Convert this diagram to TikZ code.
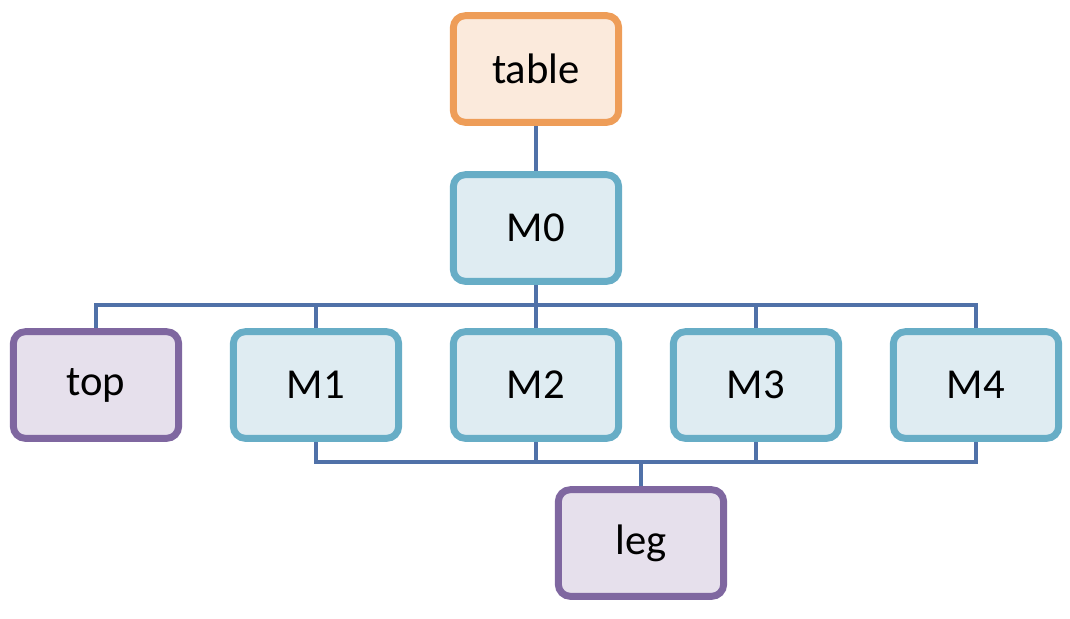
\documentclass[tikz,border=0pt]{standalone}
\usepackage{fontspec}
\setmainfont{Carlito}
\usetikzlibrary{backgrounds}
\definecolor{orangeedge}{HTML}{EE9D58}
\definecolor{orangefill}{HTML}{FBEADC}
\definecolor{blueedge}{HTML}{67ADC6}
\definecolor{bluefill}{HTML}{DFECF2}
\definecolor{purpleedge}{HTML}{7F67A0}
\definecolor{purplefill}{HTML}{E6E0EC}
\definecolor{linkcol}{HTML}{5071A8}
\tikzset{
  part/.style={draw, rounded corners=9pt, line width=5.2pt, minimum width=124pt,
    minimum height=80pt, inner sep=0pt, font=\fontsize{32}{38}\selectfont},
  tablepart/.style={part, draw=orangeedge, fill=orangefill},
  modpart/.style={part, draw=blueedge, fill=bluefill},
  leafpart/.style={part, draw=purpleedge, fill=purplefill},
  link/.style={draw=linkcol, line width=3pt}
}
\begin{document}
\begin{tikzpicture}[x=0.75pt, y=-0.75pt]
  \useasboundingbox (0,0) rectangle (1070,618);
  \node[tablepart] (table) at (536,69) {table};
  \node[modpart] (M0) at (536,228) {M0};
  \node[leafpart] (top) at (96,385) {top};
  \node[modpart] (M1) at (316,385) {M1};
  \node[modpart] (M2) at (536,385) {M2};
  \node[modpart] (M3) at (756,385) {M3};
  \node[modpart] (M4) at (976,385) {M4};
  \node[leafpart] (leg) at (641,543) {leg};
  % buses
  \coordinate (upbus) at (536,305);
  \coordinate (lowbus) at (641,462);
  \begin{scope}[on background layer]
    \draw[link] (table) -- (M0);
    \foreach \n in {top,M1,M2,M3,M4}
      \draw[link] (M0.south) -- (upbus) -| (\n.north);
    \foreach \n in {M1,M2,M3,M4}
      \draw[link] (leg.north) -- (lowbus) -| (\n.south);
  \end{scope}
\end{tikzpicture}
\end{document}
